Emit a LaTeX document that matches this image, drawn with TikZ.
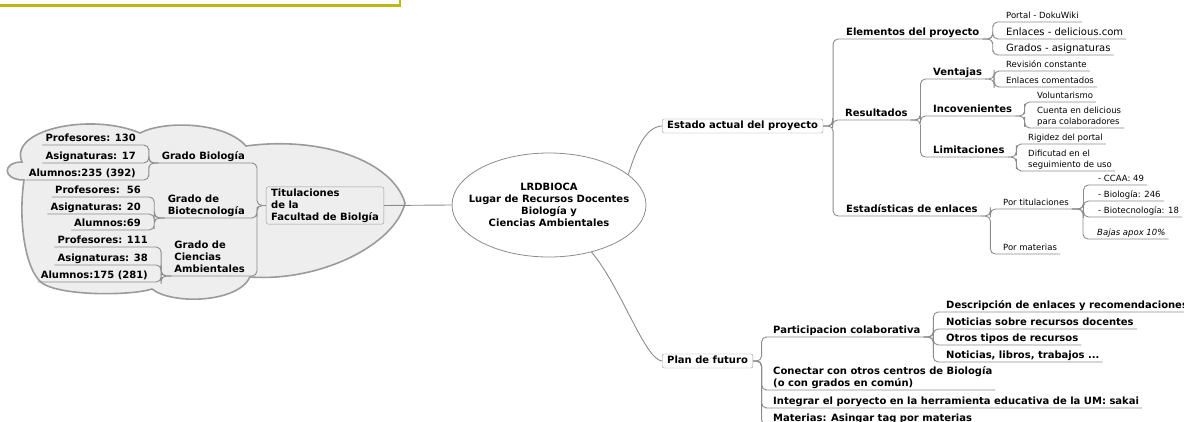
\documentclass[tikz,border=0pt]{standalone}
\usepackage{fontspec}
\setmainfont{DejaVu Sans}
\usepackage{xcolor}
\usetikzlibrary{shapes.geometric,calc,positioning}
\definecolor{marco}{RGB}{190,182,18}
\definecolor{linea}{RGB}{140,140,140}
\definecolor{borde}{RGB}{155,155,155}
\definecolor{fondo}{RGB}{238,238,238}

\begin{document}
\begin{tikzpicture}[x=1pt,y=-1pt]
  \tikzset{ t/.style={anchor=south west,inner xsep=3pt,inner ysep=0.6pt,text depth=2.3pt,align=left,
      font=\bfseries\fontsize{10}{12.2}\selectfont},
    tl/.style={t,anchor=south east},
    s/.style={t,font=\fontsize{8.5}{11.6}\selectfont},
    m/.style={t,font=\fontsize{10}{12.2}\selectfont},
    caja/.style={draw=borde,rounded corners=2pt,fill=white,inner xsep=5pt,inner ysep=2pt,
      font=\bfseries\fontsize{10}{12.2}\selectfont},
    rama/.style={draw=linea,line width=0.9pt,rounded corners=5pt},
    codo/.style={to path={-| ($(\tikztostart)!.5!(\tikztotarget)$) |- (\tikztotarget)}},
  }
  \useasboundingbox (0,0) rectangle (1184,422);
  \draw[marco,line width=2.7pt] (-5,5.3) -- (400,5.3) -- (400,-5);

  % nube de titulaciones
  \draw[draw=borde,line width=1.6pt,fill=fondo] (22,162) .. controls (8,130) and (90,112) .. (140,133)
    .. controls (165,120) and (225,122) .. (246,146)
    .. controls (320,136) and (392,160) .. (405,203)
    .. controls (395,245) and (320,282) .. (250,277)
    .. controls (238,303) and (172,305) .. (152,289)
    .. controls (130,296) and (60,296) .. (42,283)
    .. controls (25,270) and (18,220) .. (24,180)
    .. controls (2,180) and (2,162) .. cycle;

  % centro
  \node[ellipse,draw=linea,line width=0.8pt,fill=white,minimum width=194pt,minimum height=104pt,inner sep=0pt,
    label={[align=center,font=\bfseries\fontsize{10}{12.2}\selectfont]center:LRDBIOCA\\Lugar de Recursos Docentes\\Biología y\\Ciencias Ambientales}]
    (root) at (549,205) {};
  \node[caja,fill=fondo,align=left,inner ysep=1.5pt] (tit) at (325,205.5) {Titulaciones\\de la\\Facultad de Biolgía};
  \node[caja,anchor=west,text height=7.6pt,text depth=2.4pt] (est) at (662,126) {Estado actual del proyecto};
  \node[caja,anchor=west,text height=7.6pt,text depth=2.4pt] (plan) at (662,361) {Plan de futuro};

  \draw[rama] (tit.east) -- (root.west);
  \draw[rama] (root.21) .. controls (636,150) and (645,127) .. (est.west);
  \draw[rama] (root.-48) .. controls (620,285) and (645,360) .. (plan.west);

  % grados
  \node[tl] (gb) at (248,163) {Grado Biología};
  \node[tl] (gbt) at (248,218) {Grado de\\Biotecnología};
  \node[tl] (gca) at (248,276) {Grado de\\Ciencias\\Ambientales};
  \node[tl] (gb1) at (139,145) {Profesores: 130};
  \node[tl] (gb2) at (139,163) {Asignaturas: 17};
  \node[tl] (gb3) at (139,180) {Alumnos:235 (392)};
  \node[tl] (gbt1) at (144,197) {Profesores:\ \ 56};
  \node[tl] (gbt2) at (144,214) {Asignaturas: 20};
  \node[tl] (gbt3) at (144,230) {Alumnos:69};
  \node[tl] (gca1) at (151,247) {Profesores: 111};
  \node[tl] (gca2) at (151,265) {Asignaturas: 38};
  \node[tl] (gca3) at (151,282) {Alumnos:175 (281)};

  % estado actual
  \node[t] (elem) at (843,39) {Elementos del proyecto};
  \node[t] (res) at (842,120) {Resultados};
  \node[t] (estad) at (843,216) {Estadísticas de enlaces};
  \node[s] (portal) at (1003,22) {Portal - DokuWiki};
  \node[m] (enl) at (1003,39) {Enlaces - delicious.com};
  \node[m] (grad) at (1003,55) {Grados - asignaturas};
  \node[t] (vent) at (930,79) {Ventajas};
  \node[t] (incov) at (930,116) {Incovenientes};
  \node[t] (lim) at (930,157) {Limitaciones};
  \node[s] (rev) at (1003,71) {Revisión constante};
  \node[s] (enlc) at (1003,87) {Enlaces comentados};
  \node[s] (vol) at (1034,102) {Voluntarismo};
  \node[s] (cuenta) at (1034,128) {Cuenta en delicious\\para colaboradores};
  \node[s] (rig) at (1025,144) {Rigidez del portal};
  \node[s] (dif) at (1025,171) {Dificutad en el\\seguimiento de uso};
  \node[s] (ptit) at (1000,209) {Por titulaciones};
  \node[s] (pmat) at (1000,254) {Por materias};
  \node[s] (ccaa) at (1095,185) {- CCAA: 49};
  \node[s] (bio) at (1095,201) {- Biología: 246};
  \node[s] (biot) at (1095,217) {- Biotecnología: 18};
  \node[s,font=\itshape\fontsize{8.5}{11.6}\selectfont] (bajas) at (1094,239) {Bajas apox 10\%};

  % plan de futuro
  \node[t] (part) at (770,337) {Participacion colaborativa};
  \node[t] (con) at (770,390) {Conectar con otros centros de Biología\\(o con grados en común)};
  \node[t] (integ) at (770,408) {Integrar el poryecto en la herramienta educativa de la UM: sakai};
  \node[t] (mat) at (770,425) {Materias: Asingar tag por materias};
  \node[t] (desc) at (943,312) {Descripción de enlaces y recomendaciones};
  \node[t] (nots) at (943,329) {Noticias sobre recursos docentes};
  \node[t] (otros) at (943,345) {Otros tipos de recursos};
  \node[t] (nlib) at (943,362) {Noticias, libros, trabajos ...};

  \foreach \a/\h in {est.east/elem,est.east/res,est.east/estad,
      elem.south east/portal,elem.south east/enl,elem.south east/grad,
      res.south east/vent,res.south east/incov,res.south east/lim,
      vent.south east/rev,vent.south east/enlc,
      incov.south east/vol,incov.south east/cuenta,
      lim.south east/rig,lim.south east/dif,
      estad.south east/ptit,estad.south east/pmat,
      ptit.south east/ccaa,ptit.south east/bio,ptit.south east/biot,ptit.south east/bajas,
      plan.east/part,plan.east/con,plan.east/integ,plan.east/mat,
      part.south east/desc,part.south east/nots,part.south east/otros,part.south east/nlib}
    \draw[rama] (\a) to[codo] (\h.south west) -- (\h.south east);
  \foreach \a/\h in {tit.west/gb,tit.west/gbt,tit.west/gca,
      gb.south west/gb1,gb.south west/gb2,gb.south west/gb3,
      gbt.south west/gbt1,gbt.south west/gbt2,gbt.south west/gbt3,
      gca.south west/gca1,gca.south west/gca2,gca.south west/gca3}
    \draw[rama] (\a) to[codo] (\h.south east) -- (\h.south west);
\end{tikzpicture}
\end{document}
